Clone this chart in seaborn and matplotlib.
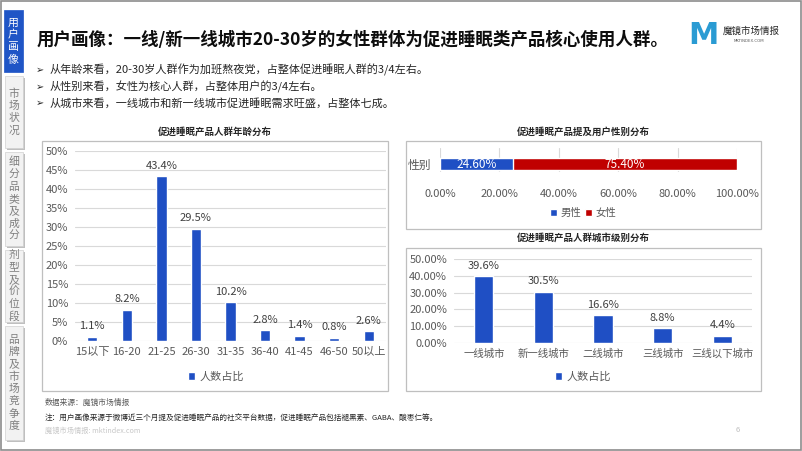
import matplotlib
matplotlib.use("Agg")
import matplotlib.pyplot as plt
from matplotlib.patches import Rectangle
from matplotlib.ticker import FuncFormatter
import seaborn as sns
import pandas as pd

sns.set_theme(style="white")
plt.rcParams["font.family"] = ["Noto Sans CJK SC", "DejaVu Sans"]
plt.rcParams["axes.unicode_minus"] = False

# ---------------- data ----------------
age_groups = ["15以下", "16-20", "21-25", "26-30", "31-35", "36-40", "41-45", "46-50", "50以上"]
age_share = [1.1, 8.2, 43.4, 29.5, 10.2, 2.8, 1.4, 0.8, 2.6]

gender_labels = ["男性", "女性"]
gender_share = [24.60, 75.40]
gender_row = "性别"

city_tiers = ["一线城市", "新一线城市", "二线城市", "三线城市", "三线以下城市"]
city_share = [39.6, 30.5, 16.6, 8.8, 4.4]

series_name = "人数占比"

title = "用户画像：一线/新一线城市20-30岁的女性群体为促进睡眠类产品核心使用人群。"
bullets = [
    "从年龄来看，20-30岁人群作为加班熬夜党，占整体促进睡眠人群的3/4左右。",
    "从性别来看，女性为核心人群，占整体用户的3/4左右。",
    "从城市来看，一线城市和新一线城市促进睡眠需求旺盛，占整体七成。",
]
tabs = ["用户画像", "市场状况", "细分品类及成分", "剂型及价位段", "品牌及市场竞争度"]
chart_titles = ["促进睡眠产品人群年龄分布", "促进睡眠产品提及用户性别分布", "促进睡眠产品人群城市级别分布"]
source_text = "数据来源：魔镜市场情报"
note_text = "注：用户画像来源于微博近三个月提及促进睡眠产品的社交平台数据，促进睡眠产品包括褪黑素、GABA、酸枣仁等。"
site_text = "魔镜市场情报: mktindex.com"
page_no = "6"

# ---------------- style ----------------
BLUE = "#1F4FC4"
RED = "#C00000"
TAB_BLUE = "#1F55C6"
GRID = "#D9D9D9"
TICK = "#595959"
LABEL = "#404040"

W, H = 802, 451
fig = plt.figure(figsize=(W / 100, H / 100), dpi=100)
fig.patch.set_facecolor("white")


def fx(x):
    return x / W


def fy(y):
    return 1 - y / H


def box(x0, y0, x1, y1):
    return [fx(x0), fy(y1), (x1 - x0) / W, (y1 - y0) / H]


def rect(x0, y0, x1, y1, **kw):
    r = Rectangle((fx(x0), fy(y1)), (x1 - x0) / W, (y1 - y0) / H,
                  transform=fig.transFigure, **kw)
    fig.add_artist(r)
    return r


# slide frame
rect(0.5, 0.5, 801, 450, fill=False, edgecolor="#8C8C8C", lw=1.2, zorder=0)

# ---------------- sidebar tabs ----------------
tab_boxes = [(4, 10, 23, 72), (5, 76, 23, 148), (5, 152, 23, 246), (5, 250, 23, 322), (5, 326, 23, 440)]
for i, (label, (x0, y0, x1, y1)) in enumerate(zip(tabs, tab_boxes)):
    if i == 0:
        rect(x0, y0, x1, y1, facecolor=TAB_BLUE, edgecolor=TAB_BLUE, lw=0.5)
        col = "white"
    else:
        rect(x0 + 2, y0 + 2, x1 + 2, y1 + 2, facecolor="#BFBFBF", edgecolor="none")
        rect(x0, y0, x1, y1, facecolor="#F2F2F2", edgecolor="#D0D0D0", lw=0.5)
        col = "#7F7F7F"
    n = len(label)
    step = 12.3
    cy = (y0 + y1) / 2
    for k, ch in enumerate(label):
        yy = cy + (k - (n - 1) / 2) * step
        fig.text(fx((x0 + x1) / 2), fy(yy), ch, ha="center", va="center",
                 fontsize=7.8, color=col)

# ---------------- header ----------------
fig.text(fx(37), fy(40), title, fontsize=12.6, fontweight="bold", va="center", color="#0D0D0D")
for yy, b in zip([70, 87, 103], bullets):
    fig.text(fx(36), fy(yy), "➢", fontsize=7, va="center", ha="left", color="#262626",
             family=["DejaVu Sans"])
    fig.text(fx(50), fy(yy), b, fontsize=8, va="center", ha="left", color="#262626")

# logo
fig.text(fx(703), fy(35), "M", fontsize=22, fontweight="heavy", ha="center", va="center",
         color="#2A9BD3", family=["DejaVu Sans"])
fig.text(fx(723), fy(31), "魔镜市场情报", fontsize=6.8, ha="left", va="center", color="#262626")
fig.text(fx(749), fy(41), "MKTINDEX.COM", fontsize=2.8, ha="center", va="center", color="#595959",
         family=["DejaVu Sans"])

# chart frames and titles
rect(42, 141, 388, 391, fill=False, edgecolor="#BFBFBF", lw=0.9)
rect(406, 141, 761, 229, fill=False, edgecolor="#BFBFBF", lw=0.9)
rect(406, 248, 761, 391, fill=False, edgecolor="#BFBFBF", lw=0.9)
fig.text(fx(215), fy(132), chart_titles[0], fontsize=6.8, fontweight="bold", ha="center", va="center", color="#262626")
fig.text(fx(583), fy(132), chart_titles[1], fontsize=6.8, fontweight="bold", ha="center", va="center", color="#262626")
fig.text(fx(583), fy(238), chart_titles[2], fontsize=6.8, fontweight="bold", ha="center", va="center", color="#262626")


def clean(ax):
    for s in ax.spines.values():
        s.set_visible(False)
    ax.set_xlabel("")
    ax.set_ylabel("")
    ax.set_facecolor("none")


# ---------------- left: age distribution ----------------
ax1 = fig.add_axes(box(75, 151, 386, 341))
df_age = pd.DataFrame({"年龄": age_groups, "占比": age_share, "系列": series_name})
sns.barplot(data=df_age, x="年龄", y="占比", hue="系列", palette=[BLUE], width=0.3,
            ax=ax1, saturation=1)
clean(ax1)
ax1.set_ylim(0, 50)
ax1.set_xlim(-0.5, len(age_groups) - 0.5)
ax1.set_yticks(range(0, 51, 5))
ax1.yaxis.set_major_formatter(FuncFormatter(lambda v, p: f"{v:.0f}%"))
ax1.yaxis.grid(True, color=GRID, lw=0.8)
ax1.set_axisbelow(True)
ax1.tick_params(axis="y", labelsize=8, colors=TICK, length=0, pad=5)
ax1.tick_params(axis="x", labelsize=8, colors=TICK, length=0, pad=4)
for c in ax1.containers:
    ax1.bar_label(c, labels=[f"{v}%" for v in age_share], padding=4, fontsize=8, color=LABEL)
h, l = ax1.get_legend_handles_labels()
ax1.legend(h, l, loc="center", bbox_to_anchor=(fx(216), fy(377)), bbox_transform=fig.transFigure,
           frameon=False, fontsize=8, handlelength=0.7, handleheight=0.7, handletextpad=0.4,
           labelcolor=TICK)

# ---------------- top-right: gender ----------------
ax2 = fig.add_axes(box(440, 148, 737, 172))
total = gender_share[0] + gender_share[1]
sns.barplot(x=[total], y=[gender_row], color=RED, orient="h", width=0.5, ax=ax2,
            saturation=1, label=gender_labels[1])
sns.barplot(x=[gender_share[0]], y=[gender_row], color=BLUE, orient="h", width=0.5, ax=ax2,
            saturation=1, label=gender_labels[0])
clean(ax2)
ax2.set_xlim(0, 100)
ax2.set_ylim(0.333, -0.667)
ax2.set_xticks(range(0, 101, 20))
ax2.xaxis.set_major_formatter(FuncFormatter(lambda v, p: f"{v:.2f}%"))
ax2.xaxis.grid(True, color=GRID, lw=0.8)
ax2.set_axisbelow(True)
ax2.tick_params(axis="x", labelsize=8, colors=TICK, length=0, pad=12)
ax2.tick_params(axis="y", labelsize=8.5, colors=TICK, length=0, pad=6)
ax2.text(gender_share[0] / 2, 0, f"{gender_share[0]:.2f}%", ha="center", va="center",
         color="white", fontsize=8.5)
ax2.text(gender_share[0] + gender_share[1] / 2, 0, f"{gender_share[1]:.2f}%", ha="center",
         va="center", color="white", fontsize=8.5)
h, l = ax2.get_legend_handles_labels()
order = [l.index(g) for g in gender_labels]
ax2.legend([h[i] for i in order], [l[i] for i in order], loc="center", ncol=2,
           bbox_to_anchor=(fx(583), fy(213)), bbox_transform=fig.transFigure,
           frameon=False, fontsize=7.5, handlelength=0.7, handleheight=0.7, handletextpad=0.3,
           columnspacing=0.4, labelcolor=TICK)

# ---------------- bottom-right: city tiers ----------------
ax3 = fig.add_axes(box(454, 259, 752, 343))
df_city = pd.DataFrame({"城市": city_tiers, "占比": city_share, "系列": series_name})
sns.barplot(data=df_city, x="城市", y="占比", hue="系列", palette=[BLUE], width=0.32,
            ax=ax3, saturation=1)
clean(ax3)
ax3.set_ylim(0, 50)
ax3.set_xlim(-0.5, len(city_tiers) - 0.5)
ax3.set_yticks(range(0, 51, 10))
ax3.yaxis.set_major_formatter(FuncFormatter(lambda v, p: f"{v:.2f}%"))
ax3.yaxis.grid(True, color=GRID, lw=0.8)
ax3.set_axisbelow(True)
ax3.tick_params(axis="y", labelsize=8, colors=TICK, length=0, pad=5)
ax3.tick_params(axis="x", labelsize=7.5, colors=TICK, length=0, pad=4)
for c in ax3.containers:
    ax3.bar_label(c, labels=[f"{v}%" for v in city_share], padding=4, fontsize=8, color=LABEL)
h, l = ax3.get_legend_handles_labels()
ax3.legend(h, l, loc="center", bbox_to_anchor=(fx(583), fy(377)), bbox_transform=fig.transFigure,
           frameon=False, fontsize=8, handlelength=0.7, handleheight=0.7, handletextpad=0.4,
           labelcolor=TICK)

# ---------------- footer ----------------
fig.text(fx(45), fy(403), source_text, fontsize=5.6, va="center", color="#595959")
fig.text(fx(45), fy(418), note_text, fontsize=5.5, va="center", color="#262626")
fig.text(fx(45), fy(431), site_text, fontsize=5.2, va="center", color="#C8C8C8")
fig.text(fx(738), fy(430), page_no, fontsize=5.5, va="center", ha="center", color="#BFBFBF")

fig.savefig("out.png", dpi=100, facecolor="white")
